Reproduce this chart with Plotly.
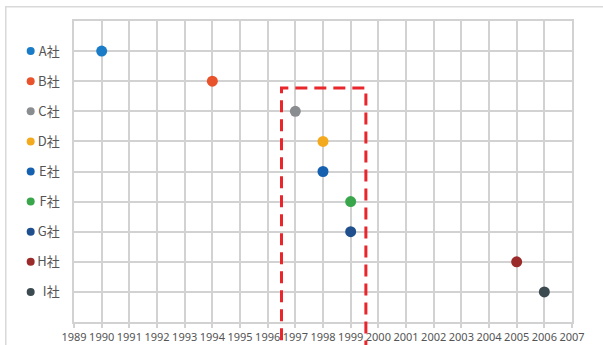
import plotly.graph_objects as go

# Companies and the year each one entered
companies = ["A社", "B社", "C社", "D社", "E社", "F社", "G社", "H社", "I社"]
years = [1990, 1994, 1997, 1998, 1998, 1999, 1999, 2005, 2006]
colors = ["#1a7cc6", "#e8532b", "#8a8d90", "#f4aa1e", "#1660b0",
          "#3aa64c", "#1f4f8c", "#9b2b2b", "#3b4b50"]
year_ticks = list(range(1989, 2008))

# Highlighted period
highlight_start, highlight_end = 1996.5, 1999.55

rows = list(range(1, len(companies) + 1))
grid = "#d2d2d2"
text_col = "#555555"

fig = go.Figure()
fig.add_trace(go.Scatter(
    x=years, y=rows, mode="markers",
    marker=dict(size=11, color=colors, line=dict(width=0)),
    showlegend=False, hoverinfo="skip", cliponaxis=False,
))

shapes = []
# outer chart frame
shapes.append(dict(type="rect", xref="paper", yref="paper",
                   x0=-0.137, x1=1.2, y0=-0.3, y1=1.047,
                   line=dict(color="#d9d9d9", width=1.5), layer="below"))
# coloured dots beside the category labels
for r, c in zip(rows, colors):
    shapes.append(dict(type="circle", xref="paper", yref="y",
                       xsizemode="pixel", ysizemode="pixel",
                       xanchor=-0.087, yanchor=r,
                       x0=-4, x1=4, y0=-4, y1=4,
                       fillcolor=c, line=dict(width=0)))
# dashed highlight box
shapes.append(dict(type="rect", xref="x", yref="paper",
                   x0=highlight_start, x1=highlight_end, y0=-0.2, y1=0.777,
                   line=dict(color="#e8262b", width=3, dash="12px,7px"),
                   fillcolor="rgba(0,0,0,0)"))

fig.update_layout(
    width=603, height=345,
    margin=dict(l=74, r=31, t=21, b=23),
    paper_bgcolor="white", plot_bgcolor="white",
    shapes=shapes,
    xaxis=dict(
        range=[1989, 2007], tickvals=year_ticks,
        ticktext=[str(y) for y in year_ticks],
        showgrid=True, gridcolor=grid, gridwidth=1.5,
        showline=True, linecolor=grid, linewidth=1.5, mirror=True,
        ticks="outside", ticklen=4, tickcolor=grid, tickwidth=1.5,
        tickangle=0,
        tickfont=dict(family="Noto Sans", size=11, color=text_col),
        zeroline=False, automargin=False,
    ),
    yaxis=dict(
        range=[10, 0], tickvals=rows, ticktext=companies,
        showgrid=True, gridcolor=grid, gridwidth=1.5,
        showline=True, linecolor=grid, linewidth=1.5, mirror=True,
        ticks="", ticklabelstandoff=10,
        tickfont=dict(family="Noto Sans CJK JP", size=13, color=text_col),
        zeroline=False, automargin=False,
    ),
)

fig.write_html("out.html")
